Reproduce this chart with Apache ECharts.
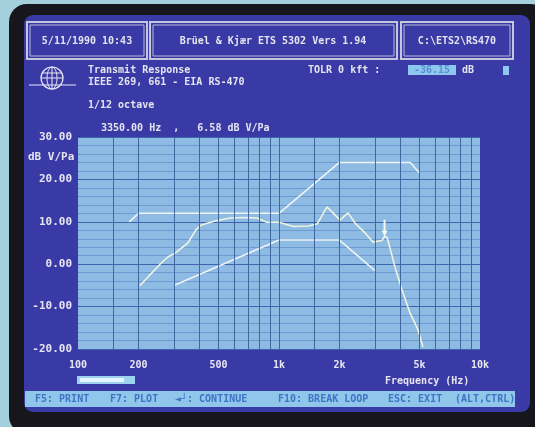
<!DOCTYPE html>
<html>
<head>
<meta charset="utf-8">
<script src="https://cdn.jsdelivr.net/npm/echarts@6/dist/echarts.min.js"></script>
<style>
html, body { margin: 0; padding: 0; background: #a4d0dc; }
#main { width: 535px; height: 427px; }
</style>
</head>
<body>
<div id="main"></div>
<script>
// axis ticks
var xTicks = [100, 200, 500, 1000, 2000, 5000, 10000];
var gridFreqs = [150, 200, 300, 400, 500, 600, 700, 800, 900,
                 1000, 1500, 2000, 3000, 4000, 5000, 6000, 7000, 8000, 9000];

// upper / lower limit masks (EIA RS-470)
var upperMask = [[180, 10], [200, 12], [1000, 12], [2000, 24], [4500, 24], [5000, 21.5]];
var lowerMask = [[300, -5], [1000, 5.7], [2000, 5.7], [3000, -1.5]];

// measured transmit response, 1/12 octave
var response = [
    [203, -5.1], [223, -3.0], [256, 0], [280, 1.7], [304, 2.6], [352, 5.0],
    [386, 8.1], [409, 9.2], [443, 9.7], [481, 10.2], [570, 10.9], [680, 11.0],
    [777, 10.9], [870, 9.9], [1000, 9.9], [1180, 8.9], [1400, 9.0], [1550, 9.5],
    [1733, 13.5], [1857, 12.1], [2012, 10.4], [2205, 12.1], [2388, 9.7],
    [2678, 7.4], [2936, 5.2], [3253, 5.6], [3350, 6.58], [3450, 6.3],
    [3567, 3.8], [3777, -0.7], [4093, -6.1], [4485, -11.5], [4917, -15.5], [5203, -19.5]
];
var cursor = [3350, 6.58];

var mono = '"DejaVu Sans Mono", monospace';
function txt(s, x, y, opt) {
    opt = opt || {};
    return {
        type: 'text', silent: true,
        style: {
            text: s, x: x, y: y,
            fill: opt.fill || '#e4e4f0',
            font: 'bold ' + (opt.size || 10) + 'px ' + mono,
            textAlign: opt.align || 'left',
            textVerticalAlign: 'middle'
        }
    };
}
function box(x, y, w, h) {
    return [
        { type: 'rect', silent: true, shape: { x: x, y: y, width: w, height: h },
          style: { fill: 'none', stroke: '#c4c6de', lineWidth: 2 } },
        { type: 'rect', silent: true, shape: { x: x + 3, y: y + 3, width: w - 6, height: h - 6 },
          style: { fill: 'none', stroke: '#b8bad6', lineWidth: 1 } }
    ];
}

var myChart = echarts.init(document.getElementById('main'));

var graphics = [
    // monitor bezel and screen
    { type: 'rect', silent: true, z: -10, shape: { x: 9, y: 4, width: 540, height: 430, r: 18 },
      style: { fill: '#16161c' } },
    { type: 'rect', silent: true, z: -9, shape: { x: 24, y: 15, width: 506, height: 397, r: 9 },
      style: { fill: '#3a3aa6' } },
    // function key bar
    { type: 'rect', silent: true, z: -8, shape: { x: 25, y: 391, width: 490, height: 16 },
      style: { fill: '#8fc6ea' } },
    txt('3350.00 Hz  ,   6.58 dB V/Pa', 101, 128),
    txt('5/11/1990 10:43', 87, 41, { align: 'center' }),
    txt('Brüel & Kjær ETS 5302 Vers 1.94', 273, 41, { align: 'center' }),
    txt('C:\\ETS2\\RS470', 457, 41, { align: 'center' }),
    txt('Transmit Response', 88, 70),
    txt('IEEE 269, 661 - EIA RS-470', 88, 82),
    txt('1/12 octave', 88, 105),
    txt('TOLR 0 kft :', 308, 70),
    { type: 'rect', silent: true, shape: { x: 408, y: 65, width: 48, height: 10 },
      style: { fill: '#8fc8ee' } },
    txt('-36.15', 432, 70, { align: 'center', fill: '#5a8ed2' }),
    txt('dB', 462, 70),
    { type: 'rect', silent: true, shape: { x: 503, y: 66, width: 6, height: 9 },
      style: { fill: '#8fc8ee' } },
    txt('dB V/Pa', 28, 157, { size: 11 }),
    txt('Frequency (Hz)', 385, 381),
    // scroll bar under the x axis
    { type: 'rect', silent: true, shape: { x: 77, y: 376, width: 58, height: 8 },
      style: { fill: '#9ed3f0' } },
    { type: 'rect', silent: true, shape: { x: 80, y: 378, width: 44, height: 4 },
      style: { fill: '#e2f4ff' } },
    // globe logo
    { type: 'circle', silent: true, shape: { cx: 52, cy: 78, r: 11 },
      style: { fill: 'none', stroke: '#e8e8f4', lineWidth: 1.2 } },
    { type: 'ellipse', silent: true, shape: { cx: 52, cy: 78, rx: 5, ry: 11 },
      style: { fill: 'none', stroke: '#e8e8f4', lineWidth: 1 } },
    { type: 'line', silent: true, shape: { x1: 52, y1: 67, x2: 52, y2: 89 },
      style: { stroke: '#e8e8f4', lineWidth: 1 } },
    { type: 'line', silent: true, shape: { x1: 42, y1: 73, x2: 62, y2: 73 },
      style: { stroke: '#e8e8f4', lineWidth: 1 } },
    { type: 'line', silent: true, shape: { x1: 41, y1: 78, x2: 63, y2: 78 },
      style: { stroke: '#e8e8f4', lineWidth: 1 } },
    { type: 'line', silent: true, shape: { x1: 29, y1: 85, x2: 76, y2: 85 },
      style: { stroke: '#e8e8f4', lineWidth: 1.2 } },
    // function key texts
    txt('F5: PRINT', 35, 399, { fill: '#3e74c4' }),
    txt('F7: PLOT', 110, 399, { fill: '#3e74c4' }),
    txt('\u25c4\u2518: CONTINUE', 175, 399, { fill: '#3e74c4' }),
    txt('F10: BREAK LOOP', 278, 399, { fill: '#3e74c4' }),
    txt('ESC: EXIT', 388, 399, { fill: '#3e74c4' }),
    txt('(ALT,CTRL)', 455, 399, { fill: '#3e74c4' })
];
graphics = graphics.concat(box(27, 22, 120, 37), box(150, 22, 247, 37), box(401, 22, 112, 37));

var option = {
    backgroundColor: '#a4d0dc',
    animation: false,
    graphic: graphics,
    grid: {
        left: 78, top: 137, width: 402, height: 212,
        show: true, backgroundColor: '#8dbbe3', borderWidth: 0
    },
    xAxis: {
        type: 'log',
        logBase: 10,
        min: 100,
        max: 10000,
        axisLine: { show: false },
        axisTick: { show: false },
        splitLine: { show: false },
        axisLabel: {
            customValues: xTicks,
            color: '#e6e6f2',
            fontFamily: mono,
            fontWeight: 'bold',
            fontSize: 10,
            margin: 11,
            formatter: function (v) {
                return v >= 1000 ? (v / 1000) + 'k' : String(v);
            }
        }
    },
    yAxis: {
        type: 'value',
        min: -20,
        max: 30,
        interval: 10,
        axisLine: { show: false },
        axisTick: { show: false },
        minorTick: { show: false, splitNumber: 5 },
        splitLine: { lineStyle: { color: '#3f63ad', width: 1 } },
        minorSplitLine: { show: true, lineStyle: { color: '#6d98d0', width: 1 } },
        axisLabel: {
            color: '#e6e6f2',
            fontFamily: mono,
            fontWeight: 'bold',
            fontSize: 11,
            margin: 6,
            formatter: function (v) { return v.toFixed(2); }
        }
    },
    series: [
        {
            // vertical grid lines
            type: 'line', z: 1, silent: true,
            data: [[100, -20]], showSymbol: false,
            lineStyle: { opacity: 0 },
            markLine: {
                silent: true, symbol: 'none', label: { show: false },
                lineStyle: { color: '#42649f', width: 1, type: 'solid' },
                data: gridFreqs.map(function (f) { return { xAxis: f }; })
            }
        },
        {
            name: 'upper', type: 'line', z: 3, showSymbol: false,
            data: upperMask,
            lineStyle: { color: '#eef4f6', width: 1.6 }
        },
        {
            name: 'lower', type: 'line', z: 3, showSymbol: false,
            data: lowerMask,
            lineStyle: { color: '#eef4f6', width: 1.6 }
        },
        {
            name: 'response', type: 'line', z: 4, showSymbol: false,
            data: response,
            lineStyle: { color: '#eef4e0', width: 1.6 },
            markPoint: {
                silent: true,
                symbol: 'path://M2,0 L4,0 L4,10 L6,10 L3,16 L0,10 L2,10 Z',
                symbolSize: [6, 17],
                symbolOffset: [0, -8],
                itemStyle: { color: '#f4f8f0' },
                label: { show: false },
                data: [{ coord: cursor }]
            }
        }
    ]
};

myChart.clear();
myChart.setOption(option);
</script>
</body>
</html>
